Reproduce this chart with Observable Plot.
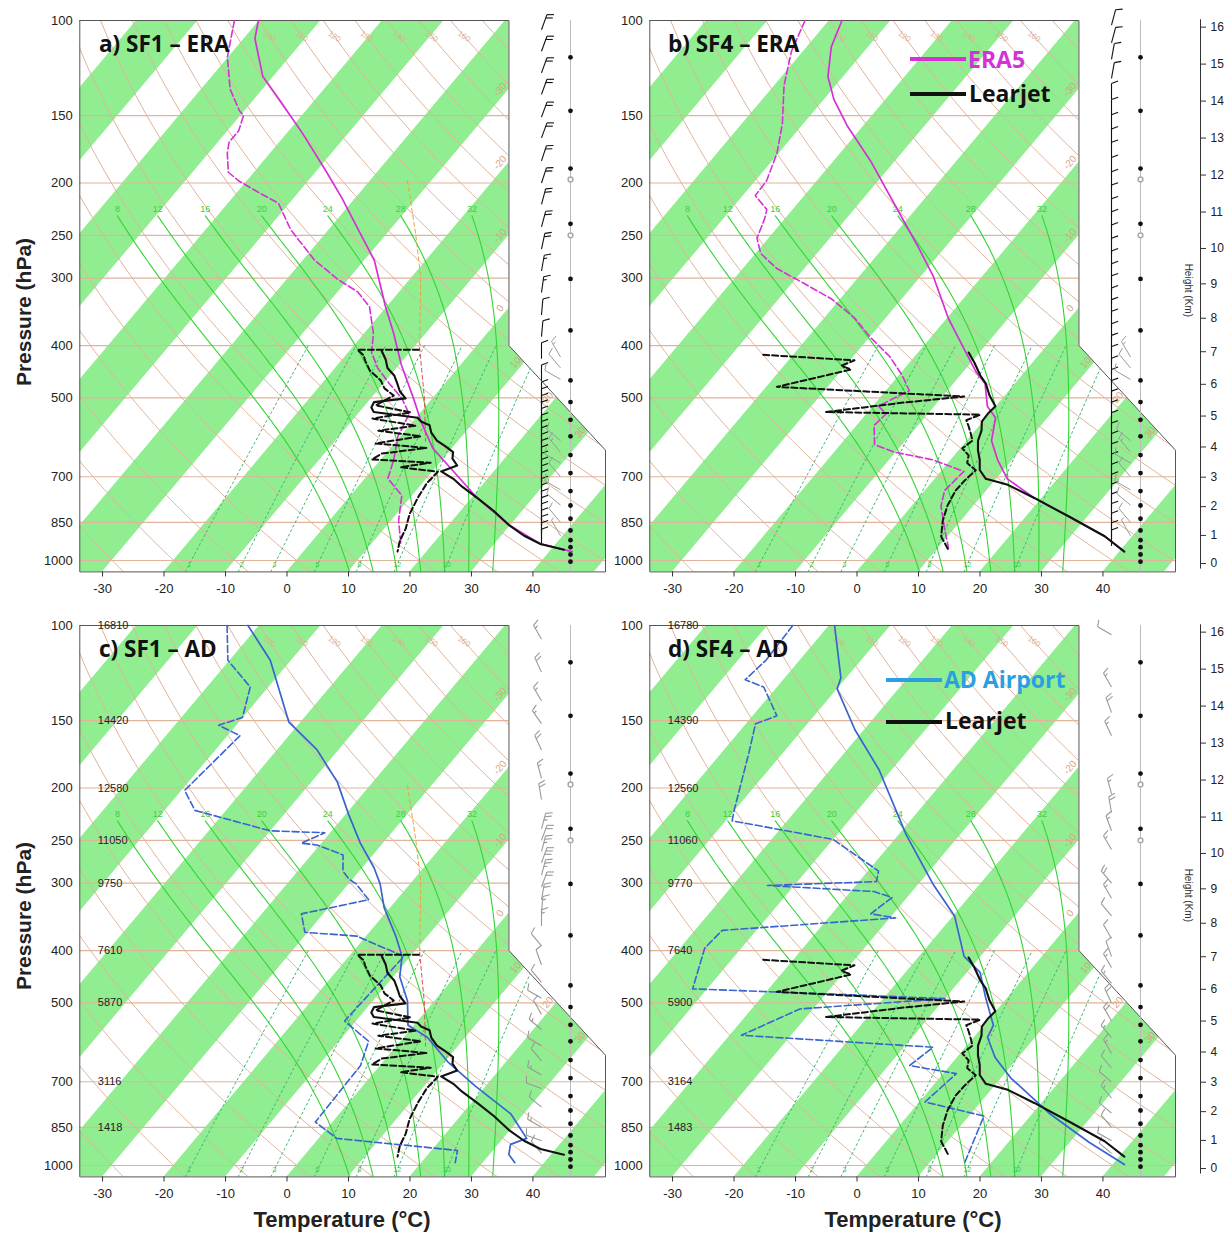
<!DOCTYPE html>
<html><head><meta charset="utf-8">
<script src="https://cdn.jsdelivr.net/npm/d3@7"></script>
<script src="https://cdn.jsdelivr.net/npm/@observablehq/plot@0.6"></script>
<style>
body{margin:0;background:#fff;}
#root{position:relative;width:1232px;height:1234px;overflow:hidden;background:#fff;}
.pnl{position:absolute;}
.ttl{position:absolute;font-family:"Open Sans",sans-serif;font-weight:700;font-size:22.5px;line-height:22px;color:#111;white-space:nowrap;}
.leg{position:absolute;font-family:"Open Sans",sans-serif;font-weight:700;font-size:23px;line-height:23px;white-space:nowrap;}
.legline{position:absolute;height:4px;}
.axt{position:absolute;font-family:"Liberation Sans",Arial,sans-serif;font-weight:700;font-size:21px;color:#222;white-space:nowrap;}
</style></head>
<body><div id="root"></div>
<script>
// ---------------- DATA ----------------
const pressureTicks = [100, 150, 200, 250, 300, 400, 500, 700, 850, 1000];
const temperatureTicks = [-30, -20, -10, 0, 10, 20, 30, 40];
const heightTicksKm = [0, 1, 2, 3, 4, 5, 6, 7, 8, 9, 10, 11, 12, 13, 14, 15, 16];
const isobarLevels = [150, 200, 250, 300, 400, 500, 700, 850, 1000];
const dryAdiabatThetas = [-30, -20, -10, 0, 10, 20, 30, 40, 50, 60, 70, 80, 90, 100, 110, 120, 130, 140, 150, 160, 170];
const dryAdiabatTopLabels = [100, 110, 120, 130, 140, 150, 160];
const moistAdiabatThetaW = [8, 12, 16, 20, 24, 28, 32];
const mixingRatios = [1, 2, 3, 5, 8, 12, 20];
const greenBandStarts = [-140, -120, -100, -80, -60, -40, -20, 0, 20, 40];

const sf1StationHeights = [[100, "16810"], [150, "14420"], [200, "12580"], [250, "11050"], [300, "9750"], [400, "7610"], [500, "5870"], [700, "3116"], [850, "1418"]];
const sf4StationHeights = [[100, "16780"], [150, "14390"], [200, "12560"], [250, "11060"], [300, "9770"], [400, "7640"], [500, "5900"], [700, "3164"], [850, "1483"]];

// profiles: [pressure hPa, temperature °C]
const era5SF1Temp = [[100,-80.2],[108,-78.3],[127,-71.8],[140,-66.0],[162,-57.5],[191,-48.3],[214,-42.1],[244,-35.3],[278,-28.5],[339,-20.3],[380,-15.3],[433,-9.9],[501,-3.2],[553,1.2],[620,6.8],[683,13.2],[766,20.8],[859,29.6],[932,37.4],[963,43.6]];
const era5SF1Dew = [[100,-84.1],[108,-82.2],[117,-80.2],[134,-75.4],[147,-70.9],[150,-69.6],[160,-68.3],[168,-68.3],[176,-67.1],[191,-64.3],[198,-61.5],[208,-56.7],[218,-51.9],[244,-46.3],[278,-38.2],[302,-31.7],[318,-26.9],[339,-22.9],[380,-18.6],[412,-16.3],[440,-13.2],[470,-9.2],[501,-5.1],[535,-1.8],[590,-0.5],[651,2.0],[705,3.6],[758,8.2],[843,11.1],[938,14.9]];
const era5SF4Temp = [[100,-78.0],[112,-76.1],[127,-72.6],[140,-68.5],[157,-62.6],[182,-54.1],[218,-44.5],[261,-34.9],[297,-28.2],[356,-19.9],[406,-13.1],[447,-8.1],[470,-5.0],[518,-1.5],[544,1.4],[600,3.9],[651,7.5],[706,11.7],[766,18.7],[831,27.1],[902,35.4],[963,40.7]];
const era5SF4Dew = [[100,-84.0],[114,-82.0],[132,-78.5],[155,-73.6],[176,-70.4],[198,-68.3],[211,-68.1],[224,-64.3],[233,-63.4],[253,-62.0],[270,-59.3],[288,-54.6],[307,-48.1],[328,-41.5],[356,-35.1],[386,-30.0],[419,-24.2],[454,-19.6],[485,-16.3],[501,-17.8],[518,-19.2],[535,-16.9],[562,-17.3],[610,-14.6],[630,-10.4],[651,-3.0],[684,3.6],[742,3.1],[792,4.6],[873,8.3],[948,11.6]];
const adSF1Temp = [[100,-81.9],[116,-73.5],[151,-62.0],[170,-53.6],[195,-45.9],[224,-39.6],[253,-33.8],[281,-28.2],[301,-25.0],[333,-21.1],[376,-15.3],[410,-11.5],[447,-9.1],[496,-4.5],[550,-1.1],[579,3.7],[642,10.3],[712,18.1],[803,27.8],[891,33.7],[914,31.9],[954,33.0],[988,35.1]];
const adSF1Dew = [[100,-85.3],[116,-80.4],[130,-73.1],[148,-70.2],[153,-73.0],[160,-68.1],[202,-69.6],[220,-65.2],[240,-50.2],[242,-41.0],[253,-43.4],[255,-40.6],[266,-35.0],[285,-32.8],[295,-30.7],[301,-28.9],[322,-24.7],[342,-33.7],[370,-30.6],[376,-21.7],[410,-11.2],[540,-12.0],[589,-5.3],[653,-3.3],[831,-2.9],[891,2.8],[938,24.1],[988,25.4]];
const adSF4Temp = [[100,-79.2],[125,-71.0],[131,-70.1],[156,-61.6],[185,-52.2],[244,-38.9],[301,-27.8],[345,-19.9],[410,-12.8],[439,-8.0],[487,-3.8],[550,1.4],[579,2.1],[631,6.1],[688,11.4],[803,22.8],[906,33.0],[996,41.8]];
const adSF4Dew = [[100,-86.0],[116,-85.6],[126,-86.3],[130,-82.3],[147,-76.2],[152,-78.6],[172,-75.7],[220,-70.2],[230,-69.1],[249,-50.1],[285,-38.4],[298,-37.3],[303,-54.5],[311,-36.3],[319,-32.6],[342,-33.8],[348,-29.2],[367,-55.7],[396,-56.1],[471,-52.5],[483,-25.9],[491,-10.1],[513,-32.3],[574,-38.2],[604,-5.4],[653,-6.7],[676,2.0],[763,0.8],[810,12.3],[996,15.7]];
const learjetSF1Temp = [[409,-14.9],[425,-13.0],[440,-11.6],[455,-9.4],[470,-7.9],[486,-6.4],[501,-4.5],[509,-9.1],[521,-8.8],[531,-7.8],[544,0.1],[553,1.2],[562,3.1],[580,4.4],[600,6.4],[615,8.6],[630,10.6],[648,11.4],[667,13.1],[684,11.3],[706,14.3],[730,16.8],[766,20.8],[810,25.3],[859,29.6],[900,33.6],[932,37.4],[955,42.0]];
const learjetSF1Dew = [[407,-9.0],[407,-19.0],[417,-17.2],[426,-16.3],[445,-14.1],[464,-11.0],[480,-9.3],[495,-6.8],[516,-8.4],[532,-1.7],[546,-7.1],[563,0.9],[575,-4.5],[589,3.2],[607,-3.2],[619,5.7],[634,-0.8],[650,-1.6],[659,8.4],[672,4.1],[685,10.8],[720,10.6],[764,11.1],[820,12.0],[874,13.4],[920,14.1],[963,15.2]];
const learjetSF4Temp = [[412,-11.9],[430,-9.6],[454,-6.9],[470,-4.9],[495,-2.6],[518,-0.2],[535,-0.4],[553,-0.3],[575,0.9],[600,1.7],[625,3.0],[651,4.6],[680,6.0],[706,8.2],[723,12.4],[766,18.7],[831,27.1],[902,35.4],[963,40.7]];
const learjetSF4Dew = [[416,-45.0],[426,-29.4],[436,-30.8],[443,-28.7],[477,-38.4],[497,-6.6],[510,-15.6],[531,-27.0],[537,-1.5],[550,-3.0],[563,-1.9],[580,-0.6],[600,0.8],[620,0.2],[639,2.2],[660,3.0],[681,5.4],[710,5.0],[742,4.9],[790,5.6],[843,6.9],[902,8.8],[959,12.0]];
const parcelSF1Upper = [[198,-34.0],[249,-25.3],[300,-18.5],[403,-9.2]];
const parcelSF1Lower = [[403,-9.2],[500,-1.5],[601,4.6]];

// winds: [pressure hPa, direction deg, speed kt]
const eraSF1Wind = [[104,20,20],[114,20,20],[125,20,20],[137,20,20],[151,20,20],[165,20,20],[182,18,20],[200,18,20],[219,15,20],[241,15,20],[265,12,20],[291,10,15],[319,8,15],[351,5,10],[385,5,10],[423,0,10],[465,0,10],[500,0,10],[515,0,10],[530,0,10],[545,0,10],[560,0,10],[576,0,10],[592,0,10],[608,0,10],[625,0,10],[642,0,10],[660,0,10],[678,0,10],[696,0,10],[715,0,10],[735,0,10],[755,0,10],[776,0,10],[797,0,10],[819,0,10],[841,0,10],[864,0,10],[888,0,10],[912,0,10],[937,0,10]];
const eraSF4Wind = [[102,15,10],[110,15,10],[118,10,10],[128,10,10],[140,0,10],[150,0,10],[160,0,10],[170,0,10],[180,0,10],[192,0,10],[204,0,10],[216,0,10],[229,0,10],[242,0,10],[256,0,10],[271,0,10],[286,0,10],[302,0,10],[318,0,10],[335,0,10],[352,0,10],[370,0,10],[390,0,10],[410,0,10],[430,0,10],[452,0,10],[474,0,10],[497,0,10],[520,0,10],[545,0,10],[570,0,10],[596,0,10],[623,0,10],[651,0,10],[680,0,10],[710,0,10],[741,0,10],[773,0,10],[806,0,10],[840,0,10],[875,0,10],[912,0,10],[940,0,10]];
const adSF1Wind = [[106,330,15],[122,335,20],[138,330,15],[152,325,15],[170,335,20],[192,345,15],[210,350,20],[238,15,25],[250,20,20],[262,15,25],[275,20,30],[290,15,25],[305,20,20],[322,10,20],[340,5,15],[360,0,15],[392,320,10],[425,340,10],[458,320,10],[490,300,10],[525,330,10],[560,310,15],[600,300,10],[640,320,10],[680,300,15],[720,290,10],[780,310,10],[850,300,15],[900,290,10],[950,320,10]];
const adSF4Wind = [[104,300,10],[130,330,15],[145,340,20],[160,335,15],[205,345,15],[222,350,20],[240,340,15],[260,330,15],[300,320,20],[320,330,15],[345,320,10],[380,330,10],[410,340,10],[430,330,15],[460,320,15],[500,335,20],[540,330,20],[580,320,15],[620,330,15],[660,320,10],[700,310,10],[750,320,15],[800,310,10],[850,320,10],[900,300,10],[950,310,10]];
const learjetWind = [[420,330,15],[440,320,10],[462,300,10],[600,310,10],[630,320,15],[660,300,10],[700,320,10],[740,300,15],[790,310,10],[850,320,10],[900,330,5]];

const windDotLevels = [117, 147, 188, 238, 301, 375, 464, 509, 549, 589, 638, 689, 744, 791, 837, 880, 917, 945, 975, 1005];
const windOpenLevels = [197, 250];

// ---------------- GEOMETRY ----------------
const K = 32.13;                 // skew (°C per ln p)
const XS_MIN = -33.7, XS_MAX = 51.8, XS_STEP = 36.1;
const skew = (T, p) => T + K * Math.log(1050 / p);
const FRAME = {x0: 79.3, x1: 605, y0: 20, y1: 571.4};
const sxPerPx = (XS_MAX - XS_MIN) / (FRAME.x1 - FRAME.x0);
const lnpPerPx = Math.log(1050 / 100) / (FRAME.y1 - FRAME.y0);
const xsAt = px => XS_MIN + (px - FRAME.x0) * sxPerPx;

// ---------------- THERMODYNAMIC REFERENCE LINES ----------------
function dryT(th, p) { return (th + 273.15) * Math.pow(p / 1000, 0.286) - 273.15; }
function dryAdiabat(th) {
  const pts = [];
  for (let p = 1050; p >= 100; p -= 10) pts.push({p, T: dryT(th, p), k: th});
  return pts;
}
function moistRate(p, T) {
  const Rd = 287.04, cp = 1005.7, L = 2.501e6, eps = 0.622;
  const Tc = T - 273.15;
  const es = 6.112 * Math.exp(17.67 * Tc / (Tc + 243.5));
  const rs = eps * es / (p - es);
  return (Rd * T + L * rs) / (p * (cp + L * L * rs * eps / (Rd * T * T)));
}
function integrate(T, p0, p1, dp) {
  let p = p0, out = [];
  while ((dp > 0 && p < p1) || (dp < 0 && p > p1)) {
    const k1 = moistRate(p, T), k2 = moistRate(p + dp / 2, T + dp / 2 * k1), k3 = moistRate(p + dp / 2, T + dp / 2 * k2), k4 = moistRate(p + dp, T + dp * k3);
    T += dp / 6 * (k1 + 2 * k2 + 2 * k3 + k4); p += dp;
    out.push({p, T});
  }
  return {T, out};
}
function moistAdiabat(thw) {
  const down = integrate(thw + 273.15, 1000, 1050, 5);
  const up = integrate(down.T, 1050, 230, -5);
  return [{p: 1050, T: down.T - 273.15}].concat(up.out.map(d => ({p: d.p, T: d.T - 273.15}))).map(d => ({...d, k: thw}));
}
function mixTd(w, p) {
  const e = w * p / (622 + w);
  const a = Math.log(e / 6.112);
  return 243.5 * a / (17.67 - a);
}
function mixLine(w) {
  const pts = [];
  for (let p = 1050; p >= 400; p -= 10) pts.push({p, T: mixTd(w, p), k: w});
  return pts;
}
const dryLines = dryAdiabatThetas.flatMap(dryAdiabat);
const dryLabels = dryAdiabatTopLabels.map(th => ({p: 107, T: dryT(th, 107), k: th}));
const moistLinesArr = moistAdiabatThetaW.map(moistAdiabat);
const moistLines = moistLinesArr.flat();
const moistLabels = moistLinesArr.map(a => a[a.length - 1]);
const mixLines = mixingRatios.flatMap(mixLine);
const mixLabels = mixingRatios.map(w => ({p: 1018, T: mixTd(w, 1018), k: w}));
const bandRows = greenBandStarts.flatMap(t => [1050, 100].map(p => ({band: t, p, x1: skew(t, p), x2: skew(t + 10, p)})));

const isoLabels = [];
[-30, -20, -10, 0].forEach(T => isoLabels.push({T, p: 1050 * Math.exp(-(XS_STEP - T) / K)}));
[10, 20, 30].forEach(T => {
  const l4 = Math.log(400), l6 = Math.log(625);
  const a = (XS_MAX - XS_STEP) / (l6 - l4);
  const lp = (T + K * Math.log(1050) - XS_STEP + a * l4) / (a + K);
  isoLabels.push({T, p: Math.exp(lp)});
});

const notchRows = [{p: 99, x1: XS_STEP}, {p: 400, x1: XS_STEP}, {p: 625, x1: XS_MAX}];
const outlineRows = [[XS_MIN, 100], [XS_MIN, 1050], [XS_MAX, 1050], [XS_MAX, 625], [XS_STEP, 400], [XS_STEP, 100], [XS_MIN, 100]];

// ---------------- WIND BARBS ----------------
function shift(pt, angDeg, len) {
  const a = angDeg * Math.PI / 180;
  return {xs: pt.xs + len * Math.sin(a) * sxPerPx, p: pt.p * Math.exp(-len * Math.cos(a) * lnpPerPx)};
}
function barbs(winds, xsBase, L = 16) {
  const segs = [];
  for (const [p, dir, spd] of winds) {
    const base = {xs: xsBase, p};
    segs.push({a: base, b: shift(base, dir, L)});
    let pos = L;
    for (let i = 0; i < Math.floor(spd / 10); i++) { const s = shift(base, dir, pos); segs.push({a: s, b: shift(s, dir + 70, 7)}); pos -= 3.5; }
    if (spd % 10 >= 5) { const s = shift(base, dir, pos); segs.push({a: s, b: shift(s, dir + 70, 3.5)}); }
  }
  return segs;
}
const linkOpts = (stroke, w) => ({x1: d => d.a.xs, y1: d => d.a.p, x2: d => d.b.xs, y2: d => d.b.p, stroke, strokeWidth: w});

const pStd = z => z <= 11 ? 1013.25 * Math.pow(1 - 0.0065 * z * 1000 / 288.15, 5.2559) : 226.32 * Math.exp(-(z - 11) * 1000 / 6341.6);

// ---------------- PANELS ----------------
const MAG = "#d631d6", BLUE = "#3a63d0", BLACK = "#111";
const panels = [
  {left: 0, top: 0, w: 620, dx: 0, dy: 0, ref: [era5SF1Temp, era5SF1Dew], refColor: MAG, jet: [learjetSF1Temp, learjetSF1Dew], wind: eraSF1Wind, windColor: "#111", jetWind: true, heights: null, hAxis: false, parcel: true},
  {left: 620, top: 0, w: 612, dx: 570, dy: 0, ref: [era5SF4Temp, era5SF4Dew], refColor: MAG, jet: [learjetSF4Temp, learjetSF4Dew], wind: eraSF4Wind, windColor: "#111", jetWind: true, heights: null, hAxis: true, parcel: false},
  {left: 0, top: 605, w: 620, dx: 0, dy: 605, ref: [adSF1Temp, adSF1Dew], refColor: BLUE, jet: [learjetSF1Temp, learjetSF1Dew], wind: adSF1Wind, windColor: "#999", jetWind: false, heights: sf1StationHeights, hAxis: false, parcel: true},
  {left: 620, top: 605, w: 612, dx: 570, dy: 605, ref: [adSF4Temp, adSF4Dew], refColor: BLUE, jet: [learjetSF4Temp, learjetSF4Dew], wind: adSF4Wind, windColor: "#999", jetWind: false, heights: sf4StationHeights, hAxis: true, parcel: false}
];

const BROWN = "#dfb49a", GREEN = "#90ee90", MOIST = "#33d433", MIX = "#3cb371";
const root = document.getElementById("root");
const H = 600;

for (const P of panels) {
  const fx0 = FRAME.x0 + P.dx - P.left, fx1 = FRAME.x1 + P.dx - P.left;
  const fy0 = FRAME.y0 + P.dy - P.top, fy1 = FRAME.y1 + P.dy - P.top;
  const prof = (data, stroke, w, dash) => Plot.line(data, {x: d => skew(d[1], d[0]), y: d => d[0], stroke, strokeWidth: w, strokeDasharray: dash, strokeLinejoin: "round"});
  const marks = [
    Plot.areaX(bandRows, {y: "p", x1: "x1", x2: "x2", z: "band", fill: GREEN, clip: true}),
    Plot.ruleY(isobarLevels, {stroke: BROWN, strokeWidth: 1.1}),
    Plot.line(dryLines, {x: d => skew(d.T, d.p), y: "p", z: "k", stroke: BROWN, strokeWidth: 1, clip: true}),
    Plot.line(moistLines, {x: d => skew(d.T, d.p), y: "p", z: "k", stroke: MOIST, strokeWidth: 1.1, clip: true}),
    Plot.line(mixLines, {x: d => skew(d.T, d.p), y: "p", z: "k", stroke: MIX, strokeWidth: 1, strokeDasharray: "2,3", clip: true}),
    Plot.areaX(notchRows, {y: "p", x1: "x1", x2: XS_MAX + 2, fill: "white"}),
    Plot.line(outlineRows, {x: d => d[0], y: d => d[1], stroke: "#555", strokeWidth: 1}),
    Plot.text(isoLabels, {x: d => skew(d.T, d.p), y: "p", text: d => String(d.T), dx: -9, rotate: -50, fill: "#d9a27e", fontSize: 10}),
    Plot.text(dryLabels, {x: d => skew(d.T, d.p), y: "p", text: d => String(d.k), rotate: 35, fill: "#dcae90", fontSize: 8}),
    Plot.text(moistLabels, {x: d => skew(d.T, d.p), y: "p", text: d => String(d.k), dy: -7, fill: "#3ccf3c", fontSize: 9}),
    Plot.text(mixLabels, {x: d => skew(d.T, d.p), y: "p", text: d => String(d.k), fill: "#4cc74c", fontSize: 7}),
    Plot.ruleX(temperatureTicks, {x: d => d, y1: 1050, y2: 1073, stroke: "#333"}),
    Plot.text(temperatureTicks, {x: d => d, y: 1050, dy: 17, text: d => String(d), fontSize: 13, fill: "#222"}),
    Plot.text(pressureTicks, {x: XS_MIN, y: d => d, dx: -7, textAnchor: "end", text: d => String(d), fontSize: 13, fill: "#222"}),
    Plot.ruleX([xsAt(570)], {y1: 100, y2: 1050, stroke: "#bbb", strokeWidth: 1}),
    Plot.dot(windDotLevels, {x: xsAt(570), y: d => d, r: 2.4, fill: "#111", stroke: "none"}),
    Plot.dot(windOpenLevels, {x: xsAt(570), y: d => d, r: 2.4, fill: "white", stroke: "#aaa"}),
    Plot.link(barbs(P.wind, xsAt(541)), linkOpts(P.windColor, 1.1)),
  ];
  if (P.jetWind) marks.push(Plot.link(barbs(learjetWind, xsAt(560), 18), linkOpts("#9a9a9a", 1)));
  if (P.parcel) marks.push(
    Plot.line(parcelSF1Upper, {x: d => skew(d[1], d[0]), y: d => d[0], stroke: "#f0a040", strokeWidth: 1, strokeDasharray: "4,3"}),
    Plot.line(parcelSF1Lower, {x: d => skew(d[1], d[0]), y: d => d[0], stroke: "#e05050", strokeWidth: 1, strokeDasharray: "4,3"})
  );
  marks.push(
    prof(P.ref[1], P.refColor, 1.6, "7,3"),
    prof(P.ref[0], P.refColor, 1.7, null),
    prof(P.jet[1], BLACK, 2, "6,3"),
    prof(P.jet[0], BLACK, 2.1, null)
  );
  if (P.heights) marks.push(Plot.text(P.heights, {x: XS_MIN, y: d => d[0], dx: 18, textAnchor: "start", text: d => d[1], fontSize: 11, fill: "#222"}));
  if (P.hAxis) {
    const xa = xsAt(630);
    marks.push(
      Plot.ruleX([xa], {y1: pStd(16.2), y2: pStd(-0.2), stroke: "#333"}),
      Plot.ruleY(heightTicksKm, {y: pStd, x1: xa, x2: xsAt(636), stroke: "#333"}),
      Plot.text(heightTicksKm, {y: pStd, x: xsAt(640), text: d => String(d), textAnchor: "start", fontSize: 12, fill: "#222"}),
      Plot.text(["Height (Km)"], {x: xsAt(618), y: 316, text: d => d, rotate: 90, fontSize: 10, fill: "#333"})
    );
  }
  const svg = Plot.plot({
    width: P.w, height: H,
    marginLeft: fx0, marginRight: P.w - fx1, marginTop: fy0, marginBottom: H - fy1,
    x: {type: "linear", domain: [XS_MIN, XS_MAX], range: [fx0, fx1], axis: null},
    y: {type: "log", domain: [100, 1050], range: [fy0, fy1], axis: null},
    style: {background: "transparent", fontFamily: "Liberation Sans, Arial, sans-serif", overflow: "visible"},
    marks
  });
  const holder = document.createElement("div");
  holder.className = "pnl";
  holder.style.left = P.left + "px"; holder.style.top = P.top + "px";
  holder.appendChild(svg);
  root.appendChild(holder);
}

function addDiv(cls, text, css) {
  const d = document.createElement("div"); d.className = cls; d.textContent = text;
  Object.assign(d.style, css); root.appendChild(d); return d;
}
addDiv("ttl", "a) SF1 – ERA", {left: "99px", top: "33px"});
addDiv("ttl", "b) SF4 – ERA", {left: "668px", top: "33px"});
addDiv("ttl", "c) SF1 – AD", {left: "99px", top: "638px"});
addDiv("ttl", "d) SF4 – AD", {left: "668px", top: "638px"});
addDiv("legline", "", {left: "910px", top: "57px", width: "56px", background: MAG});
addDiv("leg", "ERA5", {left: "968px", top: "48px", color: MAG});
addDiv("legline", "", {left: "910px", top: "92px", width: "56px", background: "#111"});
addDiv("leg", "Learjet", {left: "969px", top: "82px", color: "#111"});
addDiv("legline", "", {left: "886px", top: "678px", width: "56px", background: "#2b9fe0"});
addDiv("leg", "AD Airport", {left: "944px", top: "668px", color: "#2b9fe0"});
addDiv("legline", "", {left: "886px", top: "720px", width: "56px", background: "#111"});
addDiv("leg", "Learjet", {left: "945px", top: "709px", color: "#111"});
addDiv("axt", "Pressure (hPa)", {left: "24px", top: "312px", transform: "translate(-50%,-50%) rotate(-90deg)"});
addDiv("axt", "Pressure (hPa)", {left: "24px", top: "916px", transform: "translate(-50%,-50%) rotate(-90deg)"});
addDiv("axt", "Temperature (°C)", {left: "342px", top: "1220px", transform: "translate(-50%,-50%)", fontSize: "22px"});
addDiv("axt", "Temperature (°C)", {left: "913px", top: "1220px", transform: "translate(-50%,-50%)", fontSize: "22px"});
</script>
</body></html>
